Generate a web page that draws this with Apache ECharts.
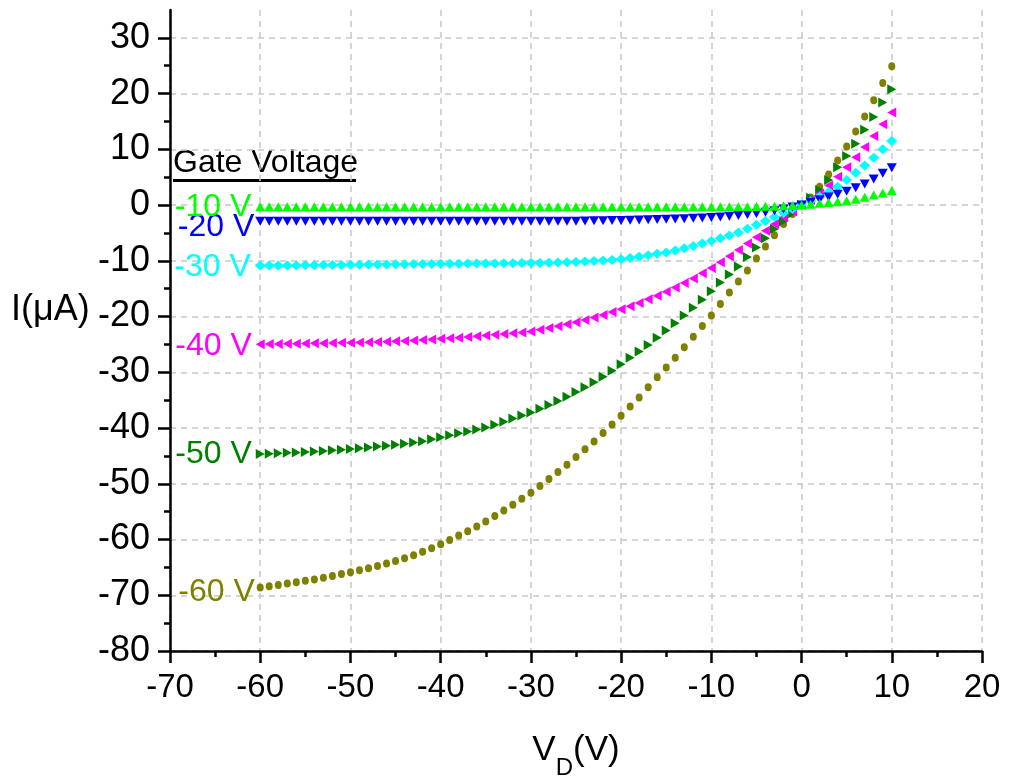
<!DOCTYPE html>
<html>
<head>
<meta charset="utf-8">
<script src="https://cdn.jsdelivr.net/npm/echarts@6/dist/echarts.min.js"></script>
<style>html,body{margin:0;padding:0;background:#fff;}#c{width:1009px;height:780px;}</style>
</head>
<body>
<div id="c"></div>
<script>
const vd = [-60,-59,-58,-57,-56,-55,-54,-53,-52,-51,-50,-49,-48,-47,-46,-45,-44,-43,-42,-41,-40,-39,-38,-37,-36,-35,-34,-33,-32,-31,-30,-29,-28,-27,-26,-25,-24,-23,-22,-21,-20,-19,-18,-17,-16,-15,-14,-13,-12,-11,-10,-9,-8,-7,-6,-5,-4,-3,-2,-1,0,1,2,3,4,5,6,7,8,9,10];

const g10 = [-0.3,-0.3,-0.3,-0.3,-0.3,-0.3,-0.3,-0.3,-0.3,-0.3,-0.3,-0.3,-0.3,-0.3,-0.3,-0.3,-0.3,-0.3,-0.3,-0.3,-0.3,-0.3,-0.3,-0.3,-0.3,-0.3,-0.3,-0.3,-0.3,-0.3,-0.3,-0.3,-0.3,-0.3,-0.3,-0.3,-0.3,-0.3,-0.3,-0.3,-0.3,-0.3,-0.3,-0.3,-0.3,-0.3,-0.3,-0.3,-0.3,-0.3,-0.3,-0.3,-0.3,-0.3,-0.28,-0.26,-0.23,-0.19,-0.13,-0.07,0,0.15,0.33,0.45,0.6,0.8,1.05,1.4,1.8,2.15,2.6];

const b20 = [-2.9,-2.9,-2.9,-2.9,-2.9,-2.9,-2.9,-2.9,-2.9,-2.9,-2.9,-2.9,-2.9,-2.9,-2.9,-2.9,-2.9,-2.9,-2.9,-2.9,-2.9,-2.9,-2.9,-2.9,-2.9,-2.9,-2.9,-2.9,-2.9,-2.9,-2.9,-2.88,-2.88,-2.88,-2.88,-2.88,-2.85,-2.83,-2.8,-2.78,-2.75,-2.72,-2.68,-2.64,-2.6,-2.56,-2.5,-2.45,-2.38,-2.3,-2.22,-2.12,-2.0,-1.87,-1.7,-1.5,-1.27,-1.0,-0.7,-0.36,0,0.5,0.95,1.45,1.95,2.5,3.1,3.8,4.7,5.7,6.7];

const c30 = [-10.85,-10.85,-10.84,-10.83,-10.82,-10.8,-10.79,-10.77,-10.76,-10.74,-10.72,-10.7,-10.68,-10.66,-10.64,-10.62,-10.6,-10.59,-10.57,-10.56,-10.54,-10.53,-10.51,-10.5,-10.48,-10.47,-10.46,-10.44,-10.43,-10.41,-10.4,-10.37,-10.34,-10.3,-10.26,-10.2,-10.12,-10.05,-9.95,-9.85,-9.7,-9.5,-9.25,-9.0,-8.75,-8.5,-8.15,-7.75,-7.35,-6.9,-6.45,-5.95,-5.45,-4.9,-4.25,-3.55,-2.85,-2.15,-1.4,-0.7,0,0.75,1.5,2.35,3.3,4.5,5.8,7.1,8.5,10.0,11.5];

const m40 = [-24.95,-24.93,-24.91,-24.89,-24.86,-24.83,-24.8,-24.77,-24.74,-24.71,-24.68,-24.64,-24.6,-24.56,-24.5,-24.44,-24.38,-24.3,-24.2,-24.1,-24.0,-23.9,-23.78,-23.66,-23.53,-23.4,-23.26,-23.12,-22.98,-22.84,-22.7,-22.38,-22.05,-21.73,-21.4,-21.0,-20.6,-20.15,-19.7,-19.2,-18.7,-18.13,-17.55,-16.9,-16.25,-15.55,-14.8,-14.0,-13.15,-12.25,-11.3,-10.27,-9.2,-8.05,-6.9,-5.75,-4.6,-3.4,-2.2,-1.1,0,0.9,2.1,3.5,5.1,6.8,8.6,10.4,12.4,14.5,16.6];

const d50 = [-44.65,-44.6,-44.52,-44.45,-44.37,-44.28,-44.2,-44.1,-44.0,-43.88,-43.75,-43.62,-43.48,-43.33,-43.17,-43.0,-42.8,-42.6,-42.35,-42.0,-41.65,-41.3,-40.95,-40.6,-40.25,-39.9,-39.4,-38.85,-38.3,-37.75,-37.2,-36.55,-35.85,-35.15,-34.4,-33.55,-32.7,-31.8,-30.8,-29.7,-28.55,-27.4,-26.25,-25.1,-23.8,-22.5,-21.2,-19.8,-18.4,-17.0,-15.45,-13.9,-12.45,-11.0,-9.3,-7.6,-5.95,-4.3,-2.9,-1.45,0,1.3,2.7,4.5,6.8,8.8,11.0,13.5,15.8,18.4,20.8];

const o60 = [-68.6,-68.4,-68.15,-67.9,-67.65,-67.4,-67.15,-66.85,-66.55,-66.2,-65.85,-65.5,-65.15,-64.75,-64.3,-63.85,-63.35,-62.8,-62.2,-61.55,-60.85,-60.1,-59.3,-58.5,-57.65,-56.75,-55.8,-54.8,-53.75,-52.7,-51.6,-50.4,-49.15,-47.9,-46.6,-45.2,-43.8,-42.4,-40.9,-39.35,-37.8,-36.15,-34.5,-32.7,-30.9,-29.15,-27.4,-25.5,-23.6,-21.7,-19.8,-17.75,-15.7,-13.7,-11.75,-9.6,-7.45,-5.4,-3.4,-1.6,0,1.35,3.3,5.5,8.0,10.5,13.2,15.9,18.8,21.9,24.9];

const seriesNames = ['-10 V','-20 V','-30 V','-40 V','-50 V','-60 V'];
const seriesColors = ['#00ff00','#0000ff','#00ffff','#ff00ff','#008000','#808000'];
const yTickLabels = [-80,-70,-60,-50,-40,-30,-20,-10,0,10,20,30];
const xTickLabels = [-70,-60,-50,-40,-30,-20,-10,0,10,20];

const allData = [g10,b20,c30,m40,d50,o60];
const symbols = [
  {symbol:'triangle', size:[10,9], rotate:0},
  {symbol:'triangle', size:[10,9], rotate:180},
  {symbol:'diamond', size:[11,10], rotate:0},
  {symbol:'triangle', size:[10,9], rotate:90},
  {symbol:'triangle', size:[10,9], rotate:-90},
  {symbol:'circle', size:[7,8], rotate:0}
];
const labelOffsets = [[0,0],[3,6],[0,2],[0,2],[0,0],[2,5]];
const FONT = 'Liberation Sans, Arial, sans-serif';

const series = allData.map((arr, i) => ({
  name: seriesNames[i],
  type: 'scatter',
  symbol: symbols[i].symbol,
  symbolSize: symbols[i].size,
  symbolRotate: symbols[i].rotate,
  itemStyle: {color: seriesColors[i], opacity: 1},
  z: 10 - i,
  data: arr.map((v, j) => {
    const item = {value: [vd[j], v]};
    if (j === 0) {
      item.label = {show: true, position: 'left', distance: 4, offset: labelOffsets[i],
        formatter: seriesNames[i], color: seriesColors[i], fontSize: 32, fontFamily: FONT};
    }
    return item;
  })
}));

const chart = echarts.init(document.getElementById('c'), null, {renderer: 'canvas'});
const axisCommon = {
  axisLine: {show: true, onZero: false, lineStyle: {color: '#000', width: 2.5}},
  axisTick: {show: true, inside: false, length: 12, lineStyle: {color: '#000', width: 2.5}},
  minorTick: {show: true, splitNumber: 2, length: 6, lineStyle: {color: '#000', width: 2.5}},
  splitLine: {show: true, lineStyle: {color: '#c8c8c8', type: [6, 5], width: 1.5}}
};
chart.setOption({
  animation: false,
  backgroundColor: '#fff',
  grid: {left: 170, right: 27, top: 10, bottom: 129, containLabel: false, outerBoundsMode: 'none'},
  xAxis: Object.assign({}, axisCommon, {
    type: 'value', min: -70, max: 20, interval: 10,
    axisLabel: {color: '#000', fontSize: 33, fontFamily: FONT, margin: 20, customValues: xTickLabels},
    axisTick: Object.assign({}, axisCommon.axisTick, {customValues: xTickLabels}),
    name: '{v|V}{s|D}{v|(V)}', nameLocation: 'middle', nameGap: 82,
    nameTextStyle: {rich: {v: {fontSize: 35, fontFamily: FONT, color: '#000', verticalAlign: 'bottom'},
      s: {fontSize: 24, fontFamily: FONT, color: '#000', verticalAlign: 'bottom', padding: [0,0,-12,0]}}}
  }),
  yAxis: Object.assign({}, axisCommon, {
    type: 'value', min: -80, max: 35, interval: 10,
    axisLabel: {color: '#000', fontSize: 36, fontFamily: FONT, margin: 20, customValues: yTickLabels},
    axisTick: Object.assign({}, axisCommon.axisTick, {customValues: yTickLabels})
  }),
  graphic: [
    {type: 'text', left: 11, top: 292, style: {text: 'I(μA)', fontSize: 36, fontFamily: FONT, fill: '#000'}},
    {type: 'text', left: 173, top: 147, style: {text: 'Gate Voltage', fontSize: 32, fontFamily: FONT, fill: '#000'}},
    {type: 'rect', left: 173, top: 179, shape: {width: 183, height: 3}, style: {fill: '#000'}}
  ],
  series: series
});
</script>
</body>
</html>
